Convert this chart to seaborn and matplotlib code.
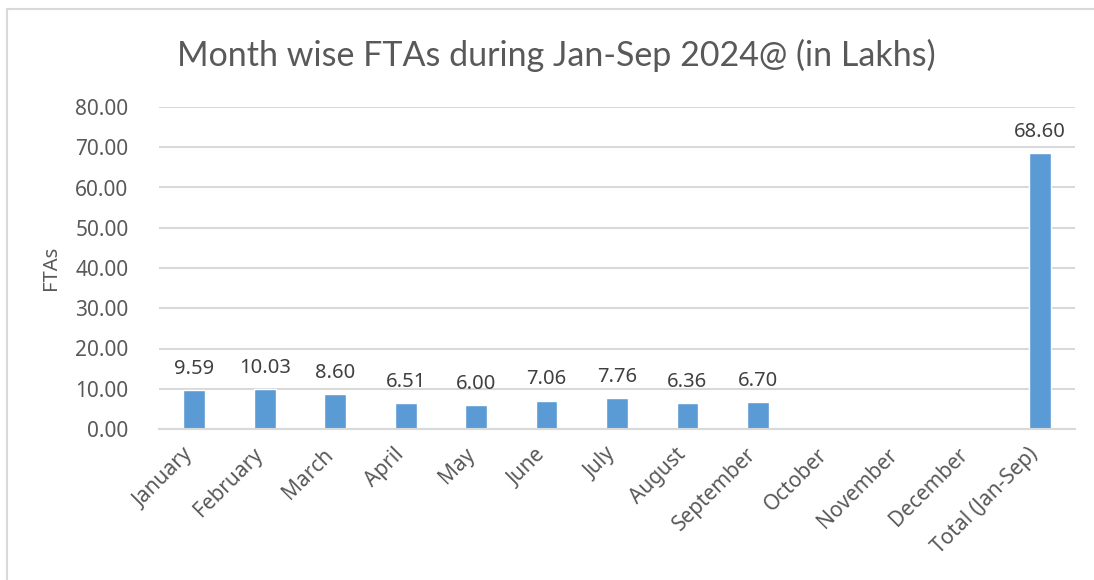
"""Month wise FTAs bar chart (Jan-Sep 2024)."""

import matplotlib

matplotlib.use("Agg")
import matplotlib.pyplot as plt
import matplotlib.transforms as mtransforms
import pandas as pd
import seaborn as sns
from matplotlib.patches import Rectangle

MONTHS = [
    "January", "February", "March", "April", "May", "June", "July",
    "August", "September", "October", "November", "December", "Total (Jan-Sep)",
]
FTAS = [9.59, 10.03, 8.60, 6.51, 6.00, 7.06, 7.76, 6.36, 6.70, None, None, None, 68.60]
Y_TICKS = [0, 10, 20, 30, 40, 50, 60, 70, 80]

BAR_COLOR = "#5b9bd5"
TEXT_COLOR = "#595959"
GRID_COLOR = "#d9d9d9"

sns.set_theme(style="white")
plt.rcParams["font.family"] = ["Noto Sans", "DejaVu Sans"]

frame = pd.DataFrame({"month": MONTHS, "ftas": FTAS})

fig = plt.figure(figsize=(10.94, 5.80), dpi=100)
ax = fig.add_axes([159 / 1094, 1 - 429 / 580, (1075 - 159) / 1094, (429 - 107) / 580])

sns.barplot(data=frame, x="month", y="ftas", order=MONTHS, color=BAR_COLOR,
            width=0.31, saturation=1, ax=ax)

for idx, value in enumerate(FTAS):
    if value is None:
        continue
    ax.annotate(f"{value:.2f}", (idx, value), xytext=(0, 8), textcoords="offset points",
                ha="center", va="bottom", fontsize=14.5, color="#404040")

ax.set_ylim(0, 80)
ax.set_xlim(-0.5, len(MONTHS) - 0.5)
ax.set_yticks(Y_TICKS)
ax.set_yticklabels([f"{t:.2f}" for t in Y_TICKS], fontsize=15, color=TEXT_COLOR)
ax.set_xticks(range(len(MONTHS)))
ax.set_xticklabels(MONTHS, rotation=45, ha="right", rotation_mode="anchor",
                   fontsize=15, color=TEXT_COLOR)
ax.tick_params(axis="x", length=0, pad=8)
ax.tick_params(axis="y", length=0, pad=22)

# shift the slanted month labels a little left, as in the original
shift = mtransforms.ScaledTranslation(-12 / 100, -4 / 100, fig.dpi_scale_trans)
for label in ax.get_xticklabels():
    label.set_transform(label.get_transform() + shift)

ax.yaxis.grid(True, color=GRID_COLOR, linewidth=1.5)
ax.set_axisbelow(True)
for side in ["top", "right", "left"]:
    ax.spines[side].set_visible(False)
ax.spines["bottom"].set_color(GRID_COLOR)
ax.spines["bottom"].set_linewidth(1.5)
ax.set_xlabel("")
ax.set_ylabel("FTAs", fontsize=14.5, color=TEXT_COLOR, labelpad=10)

fig.text(556 / 1094, 1 - 66 / 580, "Month wise FTAs during Jan-Sep 2024@ (in Lakhs)",
         ha="center", va="baseline", fontsize=24.5, color=TEXT_COLOR,
         family=["Lato", "DejaVu Sans"])

fig.patches.append(Rectangle((7 / 1094, -0.1), 1.2, 1.1 - 9 / 580,
                             transform=fig.transFigure, fill=False,
                             edgecolor=GRID_COLOR, linewidth=1.5))

fig.savefig("out.png", dpi=100)
